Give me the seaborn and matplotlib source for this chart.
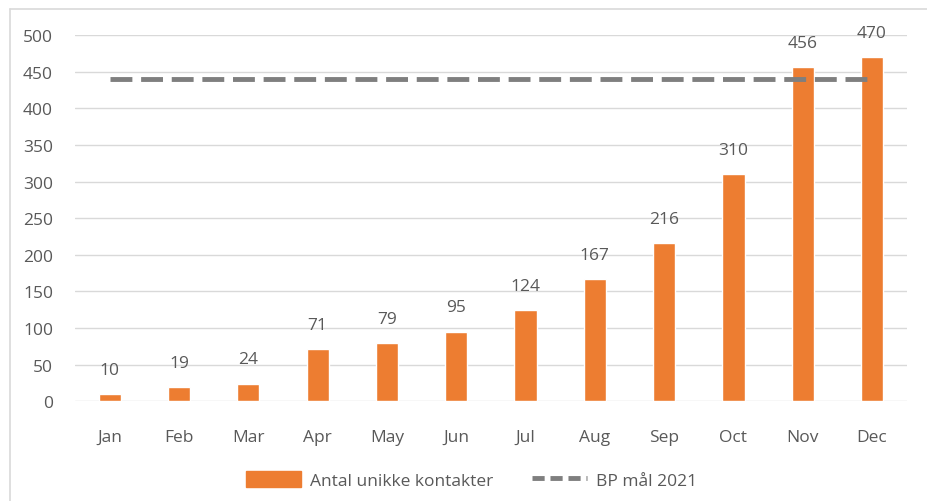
import matplotlib
matplotlib.use("Agg")
import matplotlib.pyplot as plt
from matplotlib.lines import Line2D
import seaborn as sns
import pandas as pd

months = ["Jan", "Feb", "Mar", "Apr", "May", "Jun", "Jul", "Aug", "Sep", "Oct", "Nov", "Dec"]
contacts = [10, 19, 24, 71, 79, 95, 124, 167, 216, 310, 456, 470]
target = [440] * 12

bar_label = "Antal unikke kontakter"
line_label = "BP mål 2021"

df = pd.DataFrame({"month": months, "contacts": contacts, "target": target})

sns.set_theme(style="white")
plt.rcParams["font.family"] = ["Open Sans", "DejaVu Sans"]

fig = plt.figure(figsize=(9.28, 5.02), dpi=100)
ax = fig.add_axes([0.081, 0.199, 0.896, 0.729])

orange = "#ED7D31"
grey = "#7F7F7F"
text_col = "#595959"

sns.barplot(data=df, x="month", y="contacts", color=orange, width=0.32,
            saturation=1, ax=ax, zorder=3)
ax.plot(range(len(months)), df["target"], color=grey, lw=3.5,
        dashes=(4.5, 1.8), zorder=4)

for i, v in enumerate(contacts):
    ax.text(i, v + 22, str(v), ha="center", va="bottom", fontsize=12.5, color=text_col, zorder=5)

ax.set_ylim(0, 500)
ax.set_xlim(-0.5, 11.5)
ax.set_yticks(range(0, 501, 50))
ax.yaxis.grid(True, color="#D9D9D9", lw=1)
ax.set_axisbelow(True)
for s in ax.spines.values():
    s.set_visible(False)
ax.tick_params(axis="both", length=0, labelsize=12.5, colors=text_col)
ax.tick_params(axis="x", pad=20)
ax.tick_params(axis="y", pad=16)
ax.set_xlabel("")
ax.set_ylabel("")

handles = [
    plt.Rectangle((0, 0), 1, 1, color=orange),
    Line2D([0], [0], color=grey, lw=3.5, dashes=(2.5, 1.2)),
]
fig.legend(handles, [bar_label, line_label], loc="center", bbox_to_anchor=(0.508, 0.042),
           ncol=2, frameon=False, fontsize=12.5, labelcolor=text_col,
           handlelength=3.2, handleheight=1.0, columnspacing=2.2, handletextpad=0.5)

# frame around the chart area (left and top edges visible in the reference)
fig.add_artist(Line2D([0.011, 0.011], [0, 0.98], color="#D9D9D9", lw=1.2, transform=fig.transFigure))
fig.add_artist(Line2D([0.011, 1.0], [0.98, 0.98], color="#D9D9D9", lw=1.2, transform=fig.transFigure))

fig.savefig("out.png", dpi=100, facecolor="white")
